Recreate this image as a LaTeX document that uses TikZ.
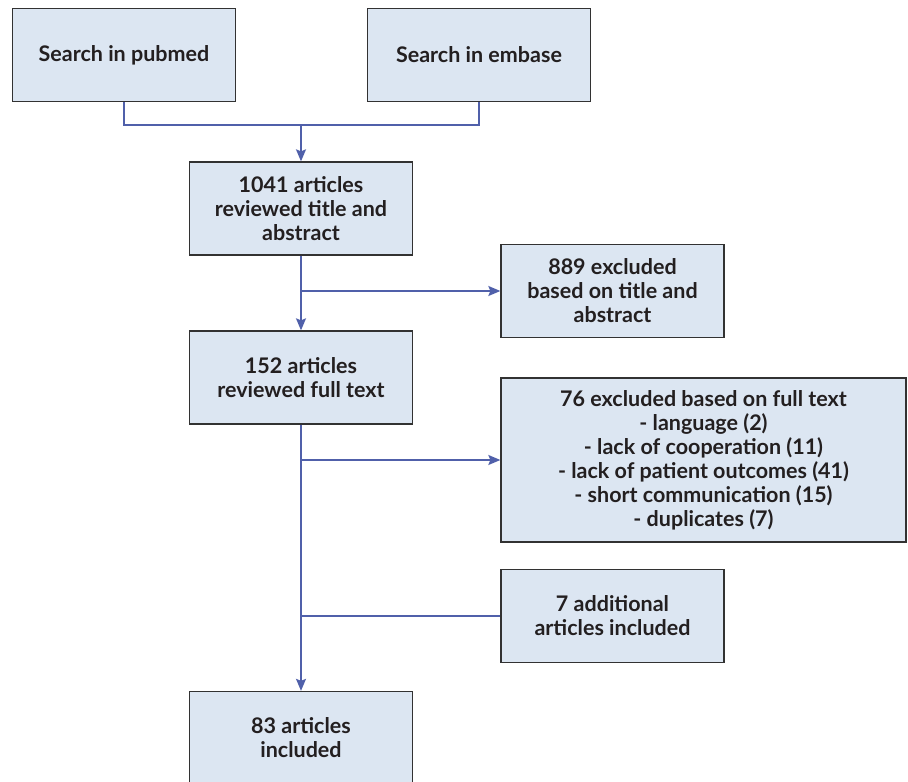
\documentclass[tikz,border=0pt]{standalone}
\usepackage{fontspec}
\setmainfont{Lato}
\usetikzlibrary{arrows.meta}

\definecolor{boxfill}{RGB}{220,230,242}
\definecolor{boxline}{RGB}{50,50,50}
\definecolor{flowline}{RGB}{80,96,170}
\definecolor{boxtext}{RGB}{35,31,32}

\tikzset{
	flowbox/.style={draw=boxline, line width=1.3pt, fill=boxfill, inner sep=0pt,
		minimum width=223pt, minimum height=93pt, align=center, text=boxtext,
		font=\fontsize{21.5}{24}\selectfont\bfseries},
	flowarrow/.style={draw=flowline, line width=1.5pt, -{Stealth[length=12pt, width=10pt, inset=2pt]}},
	flowjoin/.style={draw=flowline, line width=1.5pt}
}

\begin{document}
\begin{tikzpicture}[x=1pt, y=-1pt]

		\clip (0,0) rectangle (908,782);

		% sources
		\node[flowbox] (pubmed) at (124,55) {Search in pubmed};
		\node[flowbox] (embase) at (479,55) {Search in embase};
		\coordinate (merge) at (301,125);

		% main column
		\node[flowbox] (screen) at (301,208.5) {1041 articles\\reviewed title and\\abstract};
		\node[flowbox] (fulltext) at (301,377.5) {152 articles\\reviewed full text};
		\node[flowbox] (included) at (301,738) {83 articles\\included};

		% side boxes
		\node[flowbox] (exclone) at (612.5,291) {889 excluded\\based on title and\\abstract};
		\node[flowbox, minimum width=405pt, minimum height=164pt] (excltwo) at (703.5,460)
			{76 excluded based on full text\\- language (2)\\- lack of cooperation (11)\\- lack of patient outcomes (41)\\- short communication (15)\\- duplicates (7)};
		\node[flowbox] (extra) at (612.5,616) {7 additional\\articles included};

		% connectors
		\draw[flowjoin] (pubmed.south) |- (merge) -| (embase.south);
		\draw[flowarrow] (merge) -- (screen.north);
		\draw[flowarrow] (screen.south) -- (fulltext.north);
		\draw[flowarrow] (screen.south |- exclone.west) -- (exclone.west);
		\draw[flowarrow] (fulltext.south) -- (included.north);
		\draw[flowarrow] (fulltext.south |- excltwo.west) -- (excltwo.west);
		\draw[flowjoin] (fulltext.south |- extra.west) -- (extra.west);

	\end{tikzpicture}
\end{document}
